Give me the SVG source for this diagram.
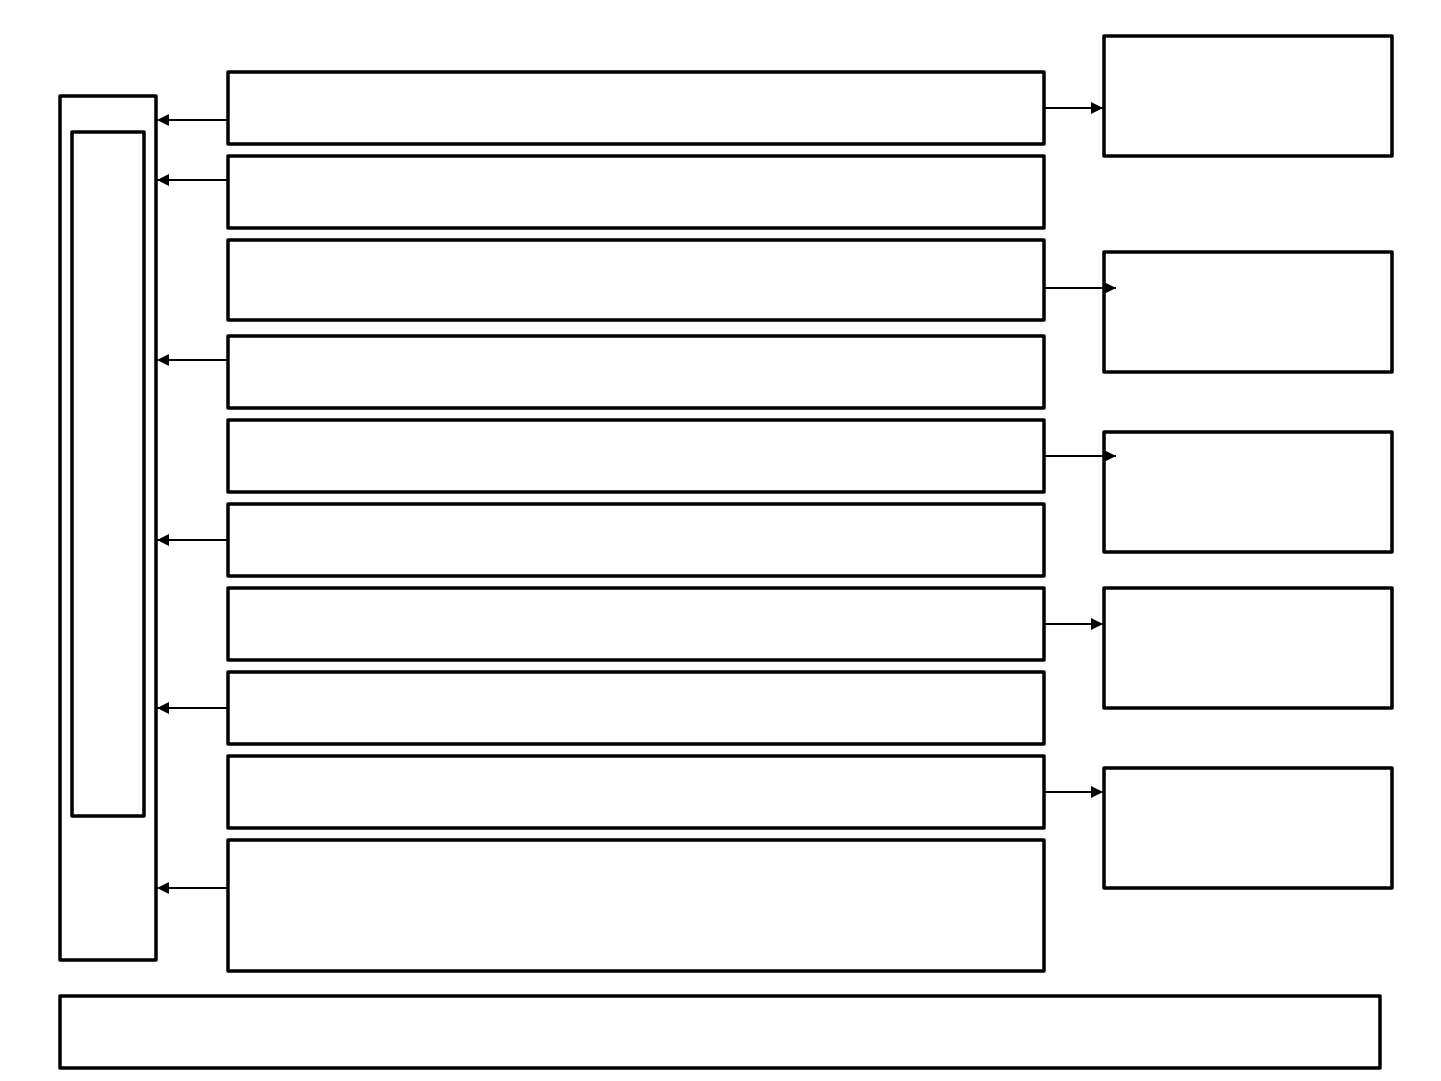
<svg xmlns="http://www.w3.org/2000/svg" width="1441" height="1081" viewBox="0 0 1441 1081">
<style>
.b{fill:#fff;stroke:#000;stroke-width:3.5;stroke-linejoin:round}
.c{fill:none;stroke:#000;stroke-width:2}
</style>
<defs>
<marker id="ah" markerWidth="14" markerHeight="14" viewBox="0 0 14 14" refX="12" refY="7" orient="auto" markerUnits="userSpaceOnUse">
<path d="M0,1 L12,7 L0,13 Z" fill="#000"/>
</marker>
</defs>
<rect width="1441" height="1081" fill="#fff"/>
<g id="left-outer"><rect class="b" x="60" y="96" width="96" height="864"/></g>
<g id="left-inner"><rect class="b" x="72" y="132" width="72" height="684"/></g>
<g id="m1"><rect class="b" x="228" y="72" width="816" height="72"/></g>
<g id="m2"><rect class="b" x="228" y="156" width="816" height="72"/></g>
<g id="m3"><rect class="b" x="228" y="240" width="816" height="80"/></g>
<g id="m4"><rect class="b" x="228" y="336" width="816" height="72"/></g>
<g id="m5"><rect class="b" x="228" y="420" width="816" height="72"/></g>
<g id="m6"><rect class="b" x="228" y="504" width="816" height="72"/></g>
<g id="m7"><rect class="b" x="228" y="588" width="816" height="72"/></g>
<g id="m8"><rect class="b" x="228" y="672" width="816" height="72"/></g>
<g id="m9"><rect class="b" x="228" y="756" width="816" height="72"/></g>
<g id="m10"><rect class="b" x="228" y="840" width="816" height="131"/></g>
<g id="r1"><rect class="b" x="1104" y="36" width="288" height="120"/></g>
<g id="r2"><rect class="b" x="1104" y="252" width="288" height="120"/></g>
<g id="r3"><rect class="b" x="1104" y="432" width="288" height="120"/></g>
<g id="r4"><rect class="b" x="1104" y="588" width="288" height="120"/></g>
<g id="r5"><rect class="b" x="1104" y="768" width="288" height="120"/></g>
<g id="bottom"><rect class="b" x="60" y="996" width="1320" height="72"/></g>
<g id="connectors">
<line class="c" x1="227" y1="120" x2="157" y2="120" marker-end="url(#ah)"/>
<line class="c" x1="227" y1="180" x2="157" y2="180" marker-end="url(#ah)"/>
<line class="c" x1="227" y1="360" x2="157" y2="360" marker-end="url(#ah)"/>
<line class="c" x1="227" y1="540" x2="157" y2="540" marker-end="url(#ah)"/>
<line class="c" x1="227" y1="708" x2="157" y2="708" marker-end="url(#ah)"/>
<line class="c" x1="227" y1="888" x2="157" y2="888" marker-end="url(#ah)"/>
<line class="c" x1="1045" y1="108" x2="1103" y2="108" marker-end="url(#ah)"/>
<line class="c" x1="1045" y1="288" x2="1116" y2="288" marker-end="url(#ah)"/>
<line class="c" x1="1045" y1="456" x2="1116" y2="456" marker-end="url(#ah)"/>
<line class="c" x1="1045" y1="624" x2="1103" y2="624" marker-end="url(#ah)"/>
<line class="c" x1="1045" y1="792" x2="1103" y2="792" marker-end="url(#ah)"/>
</g>
</svg>
